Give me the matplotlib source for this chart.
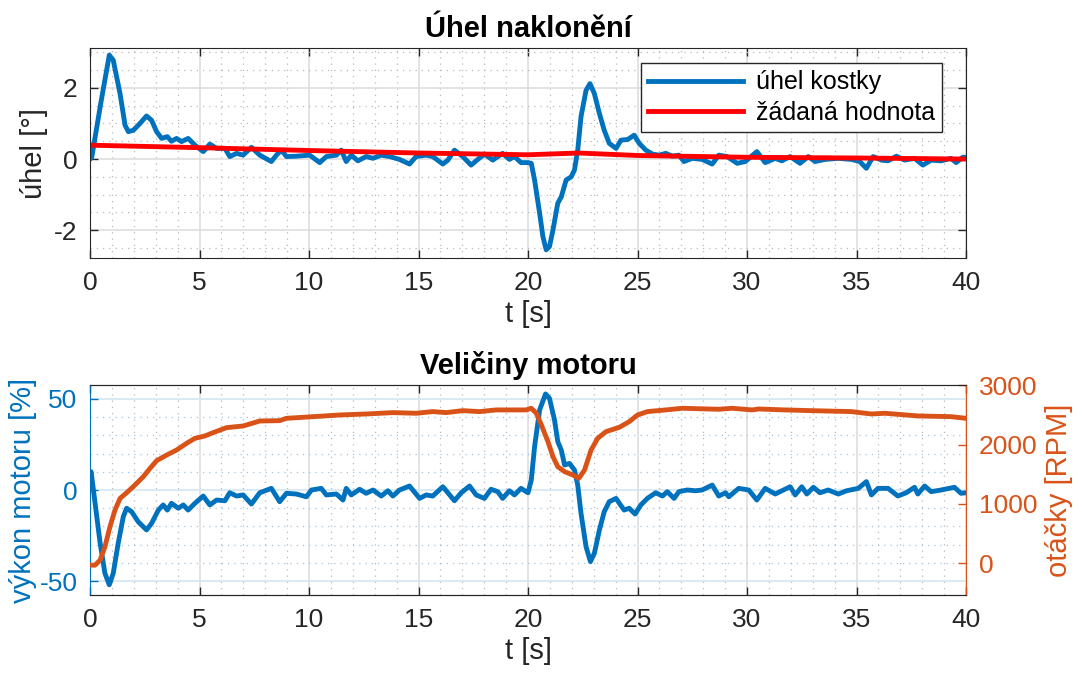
import matplotlib
matplotlib.use("Agg")
import matplotlib.pyplot as plt
from matplotlib.ticker import MultipleLocator

BLUE = '#0072BD'
ORANGE = '#D95319'
RED = '#FF0000'
DARK = '#262626'

# angle of the cube [deg]
t_angle = [0.0, 0.08, 0.5, 0.88, 1.06, 1.37, 1.6, 1.75, 1.98, 2.28, 2.58, 2.81, 3.04,
           3.27, 3.53, 3.72, 3.95, 4.18, 4.48, 4.79, 5.17, 5.47, 5.78, 6.16, 6.38,
           6.69, 6.99, 7.37, 7.75, 8.28, 8.51, 8.74, 8.97, 9.42, 10.03, 10.49, 10.79,
           11.25, 11.47, 11.7, 11.93, 12.23, 12.61, 12.92, 13.3, 13.68, 14.13, 14.59,
           14.89, 15.35, 15.65, 16.11, 16.34, 16.64, 17.02, 17.4, 17.63, 18.01, 18.39,
           18.84, 19.15, 19.38, 19.68, 20.0, 20.15, 20.3, 20.53, 20.68, 20.83, 20.98,
           21.14, 21.36, 21.52, 21.74, 21.97, 22.12, 22.27, 22.42, 22.65, 22.83, 23.03,
           23.26, 23.48, 23.71, 24.02, 24.24, 24.55, 24.85, 25.08, 25.38, 25.68, 25.98,
           26.29, 26.59, 26.89, 27.12, 27.5, 27.95, 28.41, 28.71, 29.09, 29.55, 29.92,
           30.45, 30.83, 31.29, 31.59, 31.97, 32.42, 32.8, 33.11, 33.56, 34.17, 34.77,
           35.15, 35.45, 35.76, 36.14, 36.44, 36.82, 37.2, 37.65, 38.03, 38.41, 38.86,
           39.32, 39.55, 39.85, 40.0]
angle = [0.0, 0.05, 1.6, 2.92, 2.78, 1.84, 0.95, 0.77, 0.81, 1.0, 1.21, 1.09, 0.77,
         0.58, 0.63, 0.5, 0.58, 0.49, 0.58, 0.39, 0.21, 0.42, 0.3, 0.3, 0.07,
         0.16, 0.11, 0.33, 0.11, -0.07, 0.11, 0.25, 0.07, 0.08, 0.11, -0.1, 0.07,
         0.11, 0.25, -0.07, 0.11, -0.05, 0.07, 0.02, 0.11, 0.07, -0.01, -0.14,
         0.07, 0.11, 0.07, -0.14, -0.03, 0.25, 0.07, -0.17, -0.05, 0.14, -0.03,
         0.16, -0.01, 0.07, -0.1, -0.1, -0.12, -0.59, -1.52, -2.18, -2.55, -2.46,
         -1.99, -1.24, -1.06, -0.59, -0.5, -0.31, 0.25, 1.19, 1.93, 2.12, 1.84,
         1.28, 0.81, 0.44, 0.3, 0.53, 0.55, 0.67, 0.44, 0.25, 0.14, 0.11,
         0.16, 0.08, 0.11, -0.07, 0.02, -0.01, -0.14, 0.11, 0.07, -0.12, -0.07,
         0.21, -0.1, 0.02, -0.05, 0.07, -0.12, 0.07, -0.07, -0.01, 0.02, -0.01,
         -0.07, -0.26, 0.07, -0.03, -0.05, 0.08, -0.03, 0.02, -0.17, -0.03, -0.05,
         0.02, -0.1, 0.05, 0.05]

# setpoint
t_set = [0, 5, 10, 15, 20, 22.3, 25, 30, 35, 40]
setpoint = [0.39, 0.32, 0.24, 0.17, 0.12, 0.17, 0.1, 0.05, 0.03, 0.0]

# motor power [%]
t_power = [0.0, 0.05, 0.23, 0.46, 0.68, 0.88, 1.06, 1.29, 1.52, 1.67, 1.9, 2.2, 2.58,
           2.81, 3.12, 3.34, 3.53, 3.72, 4.03, 4.26, 4.48, 4.79, 5.17, 5.47, 5.78,
           6.16, 6.38, 6.69, 6.99, 7.37, 7.75, 8.28, 8.66, 8.97, 9.42, 9.88, 10.11,
           10.56, 10.79, 11.25, 11.55, 11.7, 11.93, 12.31, 12.61, 12.92, 13.3, 13.6,
           13.83, 14.13, 14.59, 15.05, 15.35, 15.65, 16.11, 16.34, 16.64, 16.95, 17.33,
           17.63, 18.01, 18.31, 18.62, 18.84, 19.15, 19.38, 19.68, 20.0, 20.15, 20.3,
           20.53, 20.8, 20.98, 21.21, 21.36, 21.52, 21.67, 21.89, 22.12, 22.27, 22.42,
           22.65, 22.85, 23.03, 23.26, 23.48, 23.71, 24.02, 24.17, 24.39, 24.62, 24.89,
           25.15, 25.45, 25.83, 26.14, 26.36, 26.67, 26.89, 27.27, 27.65, 27.95, 28.41,
           28.71, 29.02, 29.17, 29.62, 30.08, 30.45, 30.83, 31.29, 31.97, 32.2, 32.5,
           32.73, 33.03, 33.33, 33.71, 34.17, 34.55, 35.08, 35.45, 35.68, 35.98, 36.44,
           36.89, 37.27, 37.65, 37.8, 38.11, 38.41, 38.86, 39.47, 39.77, 40.0]
power = [8, 10, -7.3, -29, -45.7, -52, -45.7, -29, -14.6, -10, -11.9, -17.4, -21.9,
         -18.3, -11, -8.2, -11, -7.3, -10, -8.2, -11, -7.3, -3.3, -8.2, -5.5,
         -5.9, -1.5, -3.3, -2.7, -7.7, -1.5, 0.9, -6.4, -1.8, -2.2, -3.7, 0,
         0.9, -2.7, -2.2, -5.5, 0.9, -2.7, 0.4, -1.8, 0, -3.3, -0.4,
         -3.3, 0, 2.2, -4.6, -2.7, -3.3, 1.8, -1.5, -5.9, -1.5, 2.2,
         -2.7, -4.6, 0.4, -0.9, -4.6, -0.4, -2.7, 0.9, -1.5, 5.5, 23.8,
         43.9, 52.7, 50.3, 38.4, 26.5, 21.9, 13.7, 14.6, 11, 2.7, -12.8,
         -31.1, -39.3, -34.7, -21.9, -11.9, -6.4, -4.6, -7.3, -11, -10, -13.2,
         -8.2, -4.6, -1.5, -3.3, -0.9, -4.6, -0.9, 0, -0.4, 0, 2.7,
         -3.3, -1.5, -3.7, 0.9, 0, -5.5, 0.9, -2.2, 1.8, -2.7, 1.8,
         -2.2, 1.5, -1.5, 0, -2.2, -0.4, 0.9, 4.6, -2.7, 0.9, 0.9,
         -3.3, -1.5, 1.5, -2.2, 2.2, -0.9, 0, 1.5, -1.8, -1.5]

# motor speed [RPM]
t_rpm = [0.0, 0.23, 0.46, 0.68, 0.91, 1.14, 1.37, 1.67, 2.05, 2.43, 2.74, 3.04, 3.5,
         3.95, 4.41, 4.79, 5.24, 5.62, 6.23, 6.99, 7.75, 8.66, 8.97, 10.18, 11.4,
         12.61, 13.83, 14.89, 15.65, 16.26, 17.02, 17.78, 18.54, 19.91, 20.15, 20.38,
         20.61, 20.91, 21.14, 21.36, 21.67, 22.05, 22.32, 22.58, 22.88, 23.18, 23.56,
         24.17, 24.62, 25.0, 25.45, 26.29, 27.05, 28.71, 29.32, 30.23, 30.53, 31.74,
         32.95, 34.77, 35.68, 36.29, 37.8, 39.32, 40.0]
rpm = [-28, -28, 56, 280, 617, 898, 1094, 1189, 1318, 1459, 1599, 1728, 1823,
       1907, 2020, 2104, 2143, 2199, 2283, 2311, 2395, 2401, 2440, 2468, 2496,
       2513, 2536, 2525, 2553, 2536, 2569, 2553, 2581, 2581, 2609, 2525,
       2328, 2048, 1795, 1627, 1543, 1487, 1431, 1571, 1907, 2104, 2216,
       2289, 2384, 2496, 2553, 2581, 2609, 2592, 2609, 2581, 2597, 2581,
       2569, 2553, 2513, 2525, 2480, 2468, 2440]

plt.rcParams['font.family'] = ['Liberation Sans', 'DejaVu Sans']
plt.rcParams['axes.unicode_minus'] = False

TICK_FS = 19
LABEL_FS = 21
LW = 3.5

fig = plt.figure(figsize=(10.82, 6.77), dpi=100)
ax1 = fig.add_axes([0.0832, 0.6189, 0.8096, 0.3102])
ax2 = fig.add_axes([0.0832, 0.1211, 0.8096, 0.3102])


def style_grid(ax, ycolor_major, ycolor_minor):
    ax.set_axisbelow(True)
    ax.xaxis.set_minor_locator(MultipleLocator(1))
    ax.xaxis.grid(True, which='major', color='#dedede', lw=1.2)
    ax.xaxis.grid(True, which='minor', color='#b8b8b8', lw=0.9, ls=(0, (1, 4)))
    ax.yaxis.grid(True, which='major', color=ycolor_major, lw=1.2)
    ax.yaxis.grid(True, which='minor', color=ycolor_minor, lw=0.9, ls=(0, (1, 4)))
    ax.tick_params(which='minor', length=0)
    ax.tick_params(which='major', direction='in', length=6, width=1,
                   labelsize=TICK_FS, pad=9)


# --- top: angle ---
ax1.plot(t_angle, angle, color=BLUE, lw=LW, label='úhel kostky')
ax1.plot(t_set, setpoint, color=RED, lw=LW, label='žádaná hodnota')
ax1.set_xlim(0, 40)
ax1.set_ylim(-2.78, 3.12)
ax1.set_xticks(range(0, 41, 5))
ax1.set_yticks([-2, 0, 2])
ax1.yaxis.set_minor_locator(MultipleLocator(0.5))
style_grid(ax1, '#dedede', '#b8b8b8')
ax1.tick_params(which='major', top=True, right=True, colors=DARK)
for s in ax1.spines.values():
    s.set_color(DARK)
ax1.set_xlabel('t [s]', fontsize=LABEL_FS, color=DARK, labelpad=4)
ax1.set_ylabel('úhel [°]', fontsize=LABEL_FS, color=DARK, labelpad=4)
ax1.set_title('Úhel naklonění', fontsize=LABEL_FS, fontweight='bold', pad=8)
ax1.legend(loc='upper right', bbox_to_anchor=(0.973, 0.929), fontsize=18,
           fancybox=False, edgecolor=DARK, framealpha=1, handlelength=3.8,
           borderpad=0.3, labelspacing=0.25, handletextpad=0.5, borderaxespad=0)

# --- bottom: motor ---
ax2.plot(t_power, power, color=BLUE, lw=LW)
ax2.set_xlim(0, 40)
ax2.set_ylim(-57.6, 57.6)
ax2.set_xticks(range(0, 41, 5))
ax2.set_yticks([-50, 0, 50])
ax2.yaxis.set_minor_locator(MultipleLocator(10))
style_grid(ax2, '#d3e6f4', '#9cc6e6')
ax2.tick_params(axis='x', which='major', top=True, colors=DARK)
ax2.tick_params(axis='y', which='major', colors=BLUE)
ax2.spines['left'].set_color(BLUE)
ax2.spines['top'].set_color(DARK)
ax2.spines['bottom'].set_color(DARK)
ax2.spines['right'].set_visible(False)
ax2.set_xlabel('t [s]', fontsize=LABEL_FS, color=DARK, labelpad=4)
ax2.set_ylabel('výkon motoru [%]', fontsize=LABEL_FS, color=BLUE, labelpad=2)
ax2.set_title('Veličiny motoru', fontsize=LABEL_FS, fontweight='bold', pad=8)

ax3 = ax2.twinx()
ax3.plot(t_rpm, rpm, color=ORANGE, lw=LW)
ax3.set_ylim(-530, 3000)
ax3.set_yticks([0, 1000, 2000, 3000])
ax3.tick_params(axis='y', direction='in', length=6, width=1, labelsize=TICK_FS,
                pad=9, colors=ORANGE)
ax3.spines['right'].set_color(ORANGE)
ax3.spines['left'].set_visible(False)
ax3.spines['top'].set_color(DARK)
ax3.spines['bottom'].set_color(DARK)
ax3.set_ylabel('otáčky [RPM]', fontsize=LABEL_FS, color=ORANGE, labelpad=6)

fig.savefig('out.png', dpi=100)
